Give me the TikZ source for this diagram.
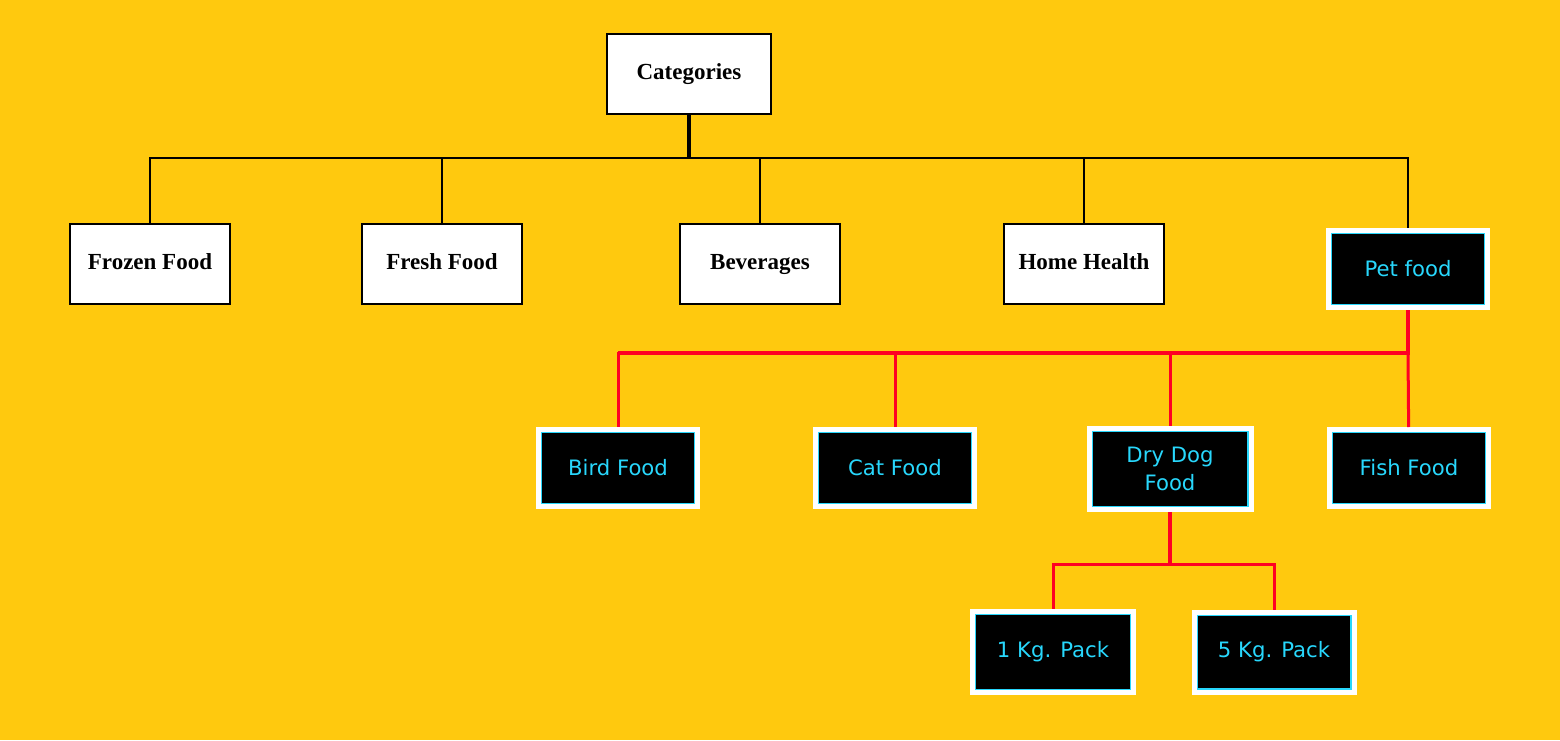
\documentclass[tikz,border=0pt]{standalone}
\usepackage{fontspec}
\setmainfont{Liberation Serif}
\newfontfamily\petfont{DejaVu Sans}
\usepackage{tikz}
\usetikzlibrary{positioning}
\definecolor{bgyellow}{RGB}{255,201,14}
\definecolor{linkred}{RGB}{255,0,35}
\definecolor{labelcyan}{RGB}{40,215,252}
\tikzstyle{cat_box}=[draw=black, fill=white, line width=0.8pt, inner sep=0pt,
    minimum width=80pt, minimum height=40pt, text height=1.55ex, text depth=0.3ex,
    font=\fontsize{11.5}{13}\selectfont\bfseries]
\tikzstyle{pet_box}=[fill=black, draw=white, line width=2.5pt, inner sep=0pt,
    minimum width=79.5pt, minimum height=38.5pt, align=center, text=labelcyan,
    font=\petfont\fontsize{10.6}{14}\selectfont, pet_edge]
\tikzstyle{pet_edge}=[
    {path picture={
        \draw[labelcyan, line width=0.6pt]
        ([shift={(1.5pt,-1.5pt)}]path picture bounding box.north west) rectangle
        ([shift={(-1.5pt,1.5pt)}]path picture bounding box.south east);
      }
    }
]
\tikzstyle{black_link}=[draw=black, line width=0.9pt]
\tikzstyle{red_link}=[draw=linkred, line width=1.5pt]
\tikzstyle{red_bus}=[draw=linkred, line width=2.2pt]

\begin{document}
\begin{tikzpicture}[x=0.5pt, y=-0.5pt]
          \fill[bgyellow] (0,0) rectangle (1560,740);
          \useasboundingbox (0,0) rectangle (1560,740);
          \node[cat_box, minimum width=82pt] (cat) at (689,74){Categories};
          \node[cat_box] (frozen) at (150,264){Frozen Food};
          \node[cat_box] (fresh) at (442,264){Fresh Food};
          \node[cat_box] (bev) at (760,264){Beverages};
          \node[cat_box] (home) at (1084,264){Home Health};
          \node[pet_box] (pet) at (1408,269){Pet food};
          \coordinate (catbus) at (689,158);
          \draw[black_link, line width=1.6pt](cat) -- (catbus);
          \draw[black_link](catbus) -| (frozen);
          \draw[black_link](catbus) -| (fresh);
          \draw[black_link](catbus) -| (bev);
          \draw[black_link](catbus) -| (home);
          \draw[black_link](catbus) -| (pet);
          \node[pet_box] (bird) at (618,468){Bird Food};
          \node[pet_box] (catfood) at (895,468){Cat Food};
          \node[pet_box, minimum width=81pt, minimum height=40.5pt] (dry) at (1170,469){Dry Dog\\Food};
          \node[pet_box] (fish) at (1409,468){Fish Food};
          \coordinate (petbus) at (1408,353);
          \draw[red_bus](pet) -- (petbus) -- (petbus -| bird.north);
          \draw[red_link](petbus) -| (bird);
          \draw[red_link](petbus) -| (catfood);
          \draw[red_link](petbus) -| (dry);
          \draw[red_link](petbus) -- (fish);
          \node[pet_box, minimum width=80.5pt, minimum height=40.5pt] (onekg) at (1053,652){1 Kg. Pack};
          \node[pet_box, minimum width=80pt, minimum height=40pt] (fivekg) at (1274,652){5 Kg. Pack};
          \coordinate (dogbus) at (1170,564);
          \draw[red_bus](dry) -- (dogbus);
          \draw[red_link](dogbus) -| (onekg);
          \draw[red_link](dogbus) -| (fivekg);
        \end{tikzpicture}
\end{document}
